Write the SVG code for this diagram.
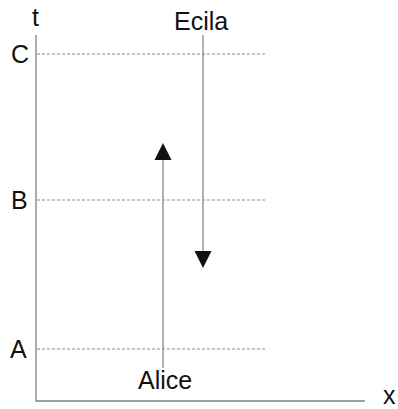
<svg xmlns="http://www.w3.org/2000/svg" width="398" height="409" viewBox="0 0 398 409">
<style>
text{font-family:"Liberation Sans",Arial,sans-serif;font-size:25px;fill:#111}
.axis{stroke:#808080;stroke-width:1.3;fill:none}
.grid{stroke:#8a8a8a;stroke-width:1;stroke-dasharray:3,2;fill:none}
.wl{stroke:#8a8a8a;stroke-width:1.3;fill:none}
.head{fill:#111}
</style>
<rect width="398" height="409" fill="#fff"/>
<g id="axes">
<path class="axis" d="M36,35 V401 H365"/>
<text x="32" y="26">t</text>
<text x="383" y="404">x</text>
</g>
<g id="gridlines">
<path class="grid" d="M37,54 H265"/>
<path class="grid" d="M37,200 H265"/>
<path class="grid" d="M37,349 H265"/>
<text x="11" y="63">C</text>
<text x="11" y="209">B</text>
<text x="10" y="358">A</text>
</g>
<g id="connectors">
<g id="alice">
<path class="wl" d="M163,368 V158"/>
<polygon class="head" points="163,143 171.5,160 154.5,160"/>
<text x="138" y="389">Alice</text>
</g>
<g id="ecila">
<path class="wl" d="M203,35 V253"/>
<polygon class="head" points="203,268 211.5,251 194.5,251"/>
<text x="174" y="30">Ecila</text>
</g>
</g>
</svg>
